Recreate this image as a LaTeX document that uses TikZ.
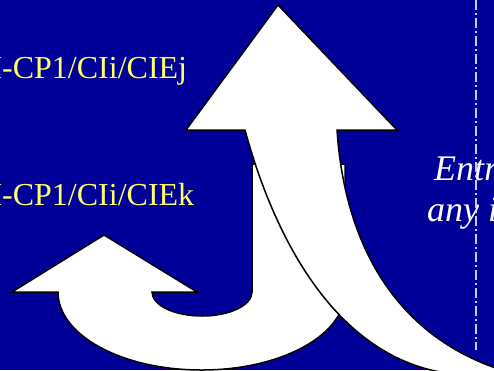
\documentclass[tikz,border=0pt]{standalone}
\usepackage{fontspec}
\setmainfont{Liberation Serif}
\definecolor{bg}{RGB}{0,0,153}
\definecolor{ylw}{RGB}{255,255,102}
\definecolor{dashc}{RGB}{204,204,255}
\tikzset{
  arrowshape/.style={fill=white, draw=black, line width=1.5bp, line join=miter},
  lbl/.style={text=ylw, font=\fontsize{32bp}{36bp}\selectfont, inner sep=0pt, anchor=base west},
  note/.style={text=white, font=\itshape\fontsize{36bp}{40bp}\selectfont, inner sep=0pt, anchor=base west},
  divider/.style={draw=dashc, line width=1.4bp, dash pattern=on 10bp off 3bp on 2bp off 3bp}
}
\begin{document}
\begin{tikzpicture}[x=1bp,y=-1bp]
\useasboundingbox (0,0) rectangle (494,370);
\clip (0,0) rectangle (494,370);
\fill[bg] (0,0) rectangle (494,370);
% labels
\node[lbl] (cj) at (2,78) {\llap{I}-CP1/CIi/CIEj};
\node[lbl] (ck) at (2,205) {\llap{I}-CP1/CIi/CIEk};
% J-shaped arrow (behind)
\path[arrowshape] (104,235) -- (197,292) -- (152,292)
  .. controls (152,305.3) and (174.4,316) .. (202,316)
  .. controls (229.6,316) and (252,305.3) .. (252,292)
  -- (252,164) -- (345,164) -- (345,292)
  .. controls (345,335.1) and (281.2,370) .. (201.5,370)
  .. controls (121.8,370) and (58,335.1) .. (58,292)
  -- (12,292) -- cycle;
% big curved arrow (front)
\path[arrowshape] (278,5) -- (397,130) -- (337,130)
  .. controls (345,250) and (400,340) .. (508,372)
  -- (515,392) -- (440,392) -- (440,372)
  .. controls (335,352) and (275,240) .. (245,130)
  -- (186,130) -- cycle;
% right notes
\node[note] (n1) at (434,180) {Entry};
\node[note] (n2) at (427,221) {any i};
% divider
\coordinate (dtop) at (476,0);
\coordinate (dbot) at (476,350);
\draw[divider] (dtop) -- (dbot);
\end{tikzpicture}
\end{document}
